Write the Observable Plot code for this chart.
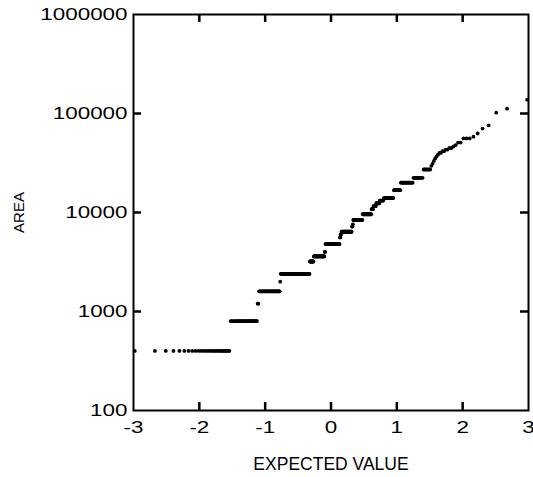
<!DOCTYPE html>
<html>
<head>
<meta charset="utf-8">
<script src="https://cdn.jsdelivr.net/npm/d3@7"></script>
<script src="https://cdn.jsdelivr.net/npm/@observablehq/plot@0.6"></script>
<style>
  body { margin: 0; background: #fff; }
</style>
</head>
<body>
<div id="chart"></div>
<script>
// Sorted sample of areas: each distinct value and how many times it occurs.
const areaValues = [
  400, 800, 1200, 1600, 2000, 2400, 3200, 3600, 4000, 4800,
  5600, 6000, 6400, 7200, 7600, 8400, 9600, 10800, 11600, 12400,
  13200, 14000, 16800, 20000, 22400, 27200, 29600, 31200, 33200, 35200,
  36800, 38400, 40000, 41600, 43200, 44800, 46400, 48000, 50800, 56000,
  58400, 62800, 70400, 76000, 102000, 112000, 138000
];
const areaCounts = [
  27, 30, 2, 36, 1, 66, 10, 28, 2, 38,
  2, 2, 27, 2, 1, 23, 20, 4, 6, 7,
  8, 18, 11, 17, 11, 7, 1, 1, 1, 1,
  1, 1, 2, 2, 2, 2, 1, 1, 2, 3,
  1, 1, 1, 1, 1, 1, 1
];

const xTicks = [-3, -2, -1, 0, 1, 2, 3];
const yTicks = [100, 1000, 10000, 100000, 1000000];
const xInner = xTicks.slice(1, -1);
const yInner = yTicks.slice(1, -1);

// Inverse of the standard normal CDF (Acklam's rational approximation).
function normalQuantile(p) {
  const a = [-3.969683028665376e+01, 2.209460984245205e+02, -2.759285104469687e+02,
             1.383577518672690e+02, -3.066479806614716e+01, 2.506628277459239e+00];
  const b = [-5.447609879822406e+01, 1.615858368580409e+02, -1.556989798598866e+02,
             6.680131188771972e+01, -1.328068155288572e+01];
  const c = [-7.784894002430293e-03, -3.223964580411365e-01, -2.400758277161838e+00,
             -2.549671464300840e+00, 4.374664141464968e+00, 2.938163982698783e+00];
  const d = [7.784695709041462e-03, 3.224671290700398e-01, 2.445134137142996e+00,
             3.754408661907416e+00];
  const lo = 0.02425, hi = 1 - lo;
  if (p < lo) {
    const q = Math.sqrt(-2 * Math.log(p));
    return (((((c[0]*q+c[1])*q+c[2])*q+c[3])*q+c[4])*q+c[5]) / ((((d[0]*q+d[1])*q+d[2])*q+d[3])*q+1);
  }
  if (p > hi) {
    const q = Math.sqrt(-2 * Math.log(1 - p));
    return -(((((c[0]*q+c[1])*q+c[2])*q+c[3])*q+c[4])*q+c[5]) / ((((d[0]*q+d[1])*q+d[2])*q+d[3])*q+1);
  }
  const q = p - 0.5, r = q * q;
  return (((((a[0]*r+a[1])*r+a[2])*r+a[3])*r+a[4])*r+a[5])*q /
         (((((b[0]*r+b[1])*r+b[2])*r+b[3])*r+b[4])*r+1);
}

// Expand to the ordered sample and attach the expected normal score of each rank (Blom).
const sample = areaValues.flatMap((v, i) => Array(areaCounts[i]).fill(v));
const n = sample.length;
const points = sample.map((area, i) => ({
  area,
  expected: normalQuantile((i + 1 - 0.375) / (n + 0.25))
}));

// Layout
const W = 533, H = 477;
const M = { top: 14, right: 5, bottom: 67, left: 133 };
const frameW = W - M.left - M.right;
const frameH = H - M.top - M.bottom;
const TICK = 8;
const tickStyle = { stroke: "black", strokeWidth: 2.5 };

const chart = Plot.plot({
  width: W,
  height: H,
  marginLeft: M.left,
  marginRight: M.right,
  marginTop: M.top,
  marginBottom: M.bottom,
  style: {
    fontFamily: "'Liberation Sans', Arial, Helvetica, sans-serif",
    fontSize: "16px",
    color: "black",
    background: "white"
  },
  x: { domain: [-3, 3] },
  y: { type: "log", domain: [100, 1000000] },
  marks: [
    Plot.axisX({ ticks: xTicks, anchor: "bottom", tickSize: 0, tickPadding: 11,
                 tickFormat: d => String(d), label: null }),
    Plot.axisY({ ticks: yTicks, anchor: "left", tickSize: 0, tickPadding: 6,
                 tickFormat: d => String(d), label: null }),
    Plot.dot(points, { x: "expected", y: "area", r: 1.9, fill: "black" }),
    Plot.frame({ stroke: "black", fill: "none", strokeWidth: 2 }),
    // short tick marks pointing into the frame on all four sides
    Plot.tickX(xInner, { x: d => d, insetTop: frameH - TICK, ...tickStyle }),
    Plot.tickX(xInner, { x: d => d, insetBottom: frameH - TICK, ...tickStyle }),
    Plot.tickY(yInner, { y: d => d, insetRight: frameW - TICK, ...tickStyle }),
    Plot.tickY(yInner, { y: d => d, insetLeft: frameW - TICK, ...tickStyle }),
    Plot.text(["AREA"], { frameAnchor: "left", dx: -114, rotate: -90, textAnchor: "middle",
                          fontSize: 15, fill: "black" }),
    Plot.text(["EXPECTED VALUE"], { frameAnchor: "bottom", dy: 59, fontSize: 17.5, fill: "black" })
  ]
});

document.getElementById("chart").append(chart);

// Wide lettering for the tick numbers.
chart.querySelectorAll('g[aria-label$="tick label"] text').forEach(t => {
  const w = t.getComputedTextLength();
  if (w > 0) {
    t.setAttribute("textLength", (w * 1.4).toFixed(1));
    t.setAttribute("lengthAdjust", "spacingAndGlyphs");
  }
});
</script>
</body>
</html>
